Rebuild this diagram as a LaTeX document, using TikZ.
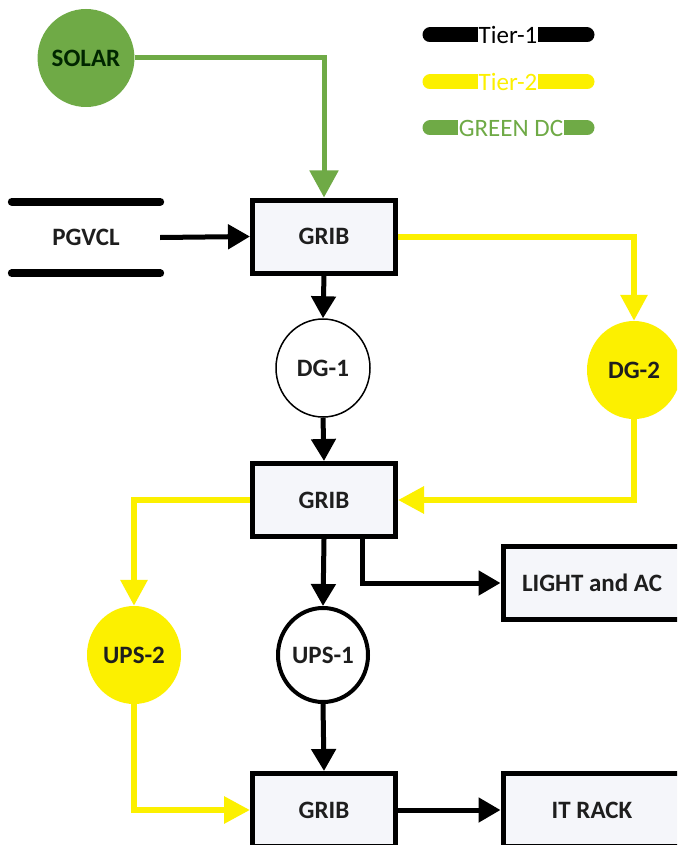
\documentclass[tikz,border=0pt]{standalone}
\usepackage{fontspec}
\setmainfont{Carlito}
\usetikzlibrary{arrows.meta,shapes.geometric}
\definecolor{tierone}{HTML}{000000}
\definecolor{tiertwo}{HTML}{FCF000}
\definecolor{greendc}{HTML}{6FAA46}
\definecolor{txt}{HTML}{1E1E1E}
\definecolor{boxfill}{HTML}{F5F6FA}
\tikzset{
  lbl/.style={font=\bfseries\fontsize{25}{28}\selectfont, text=txt},
  grib/.style={lbl, draw=black, line width=5pt, fill=boxfill,
    minimum width=143pt, minimum height=73pt, inner sep=0pt},
  wide/.style={grib, minimum width=178pt},
  disc/.style={lbl, ellipse, minimum width=94pt, minimum height=98pt, inner sep=0pt},
  blk/.style={draw=black, line width=5pt, -{Triangle[length=22pt,width=24pt]}},
  ylw/.style={draw=tiertwo, line width=6pt, -{Triangle[length=26pt,width=26pt]}},
  grn/.style={draw=greendc, line width=5pt, -{Triangle[length=27pt,width=28pt]}},
  legbar/.style={line width=15pt, line cap=round},
  legtxt/.style={fill=white, inner sep=1pt, font=\fontsize{25}{28}\selectfont},
}
\begin{document}
\begin{tikzpicture}[x=1pt,y=-1pt]
\clip (0,0) rectangle (677,845);
\fill[white] (0,0) rectangle (677,845);

% legend
\draw[legbar, tierone] (430,35) -- (587,35);
\node[legtxt, text=black] (legA) at (508,35) {Tier-1};
\draw[legbar, tiertwo] (430,82) -- (587,82);
\node[legtxt, text=tiertwo] (legB) at (508,82) {Tier-2};
\draw[legbar, greendc] (430,128) -- (587,128);
\node[legtxt, text=greendc] (legC) at (511,128) {GREEN DC};

% sources
\node[disc, fill=greendc, text=black!85!green] (solar) at (86,58) {SOLAR};
\node[lbl, minimum width=148pt, minimum height=71pt, inner sep=0pt] (pgvcl) at (86,237.5) {PGVCL};
\draw[line width=8pt, line cap=round] (pgvcl.north west) -- (pgvcl.north east);
\draw[line width=8pt, line cap=round] (pgvcl.south west) -- (pgvcl.south east);

% distribution chain
\node[grib] (grib1) at (324,236.5) {GRIB};
\node[disc, draw=black, line width=1.5pt, fill=white] (dg1) at (323,368) {DG-1};
\node[disc, fill=tiertwo] (dg2) at (634,370) {DG-2};
\node[grib] (grib2) at (324,500) {GRIB};
\node[wide] (light) at (592,583) {LIGHT and AC};
\node[disc, fill=tiertwo] (ups2) at (134,655) {UPS-2};
\node[disc, draw=black, line width=4pt, fill=white, minimum width=90pt, minimum height=94pt] (ups1) at (323,655) {UPS-1};
\node[grib] (grib3) at (324,810) {GRIB};
\node[wide] (rack) at (592,810) {IT RACK};

% green feed
\draw[grn] (solar.east) -| (grib1.north);

% tier-1 path
\draw[blk] (pgvcl.east) -- (grib1.west);
\draw[blk] (grib1.south) -- (dg1.north);
\draw[blk] (dg1.south) -- (grib2.north);
\draw[blk] (grib2.south) -- (ups1.north);
\draw[blk] ([xshift=38pt]grib2.south) |- (light.west);
\draw[blk] (ups1.south) -- (grib3.north);
\draw[blk] (grib3.east) -- (rack.west);

% tier-2 path
\draw[ylw] (grib1.east) -| (dg2.north);
\draw[ylw] (dg2.south) |- (grib2.east);
\draw[ylw] (grib2.west) -| (ups2.north);
\draw[ylw] (ups2.south) |- (grib3.west);
\end{tikzpicture}
\end{document}
